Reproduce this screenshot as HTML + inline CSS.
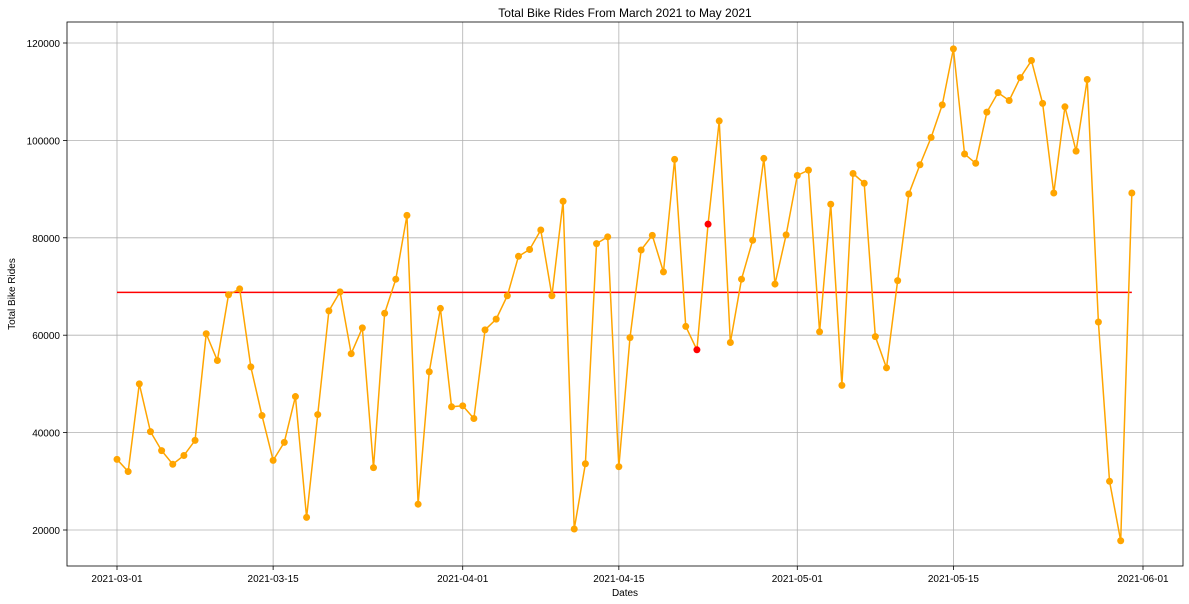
<!DOCTYPE html>
<html><head><meta charset="utf-8"><style>
html,body{margin:0;padding:0;background:#fff;}
svg{display:block;font-family:"Liberation Sans",sans-serif;}
</style></head><body>
<svg id="chart" width="1189" height="604"></svg>
<script>
const dates0 = "2021-03-01";
const rides = [34500,32000,50000,40200,36300,33500,35300,38400,60300,54800,68300,69500,53500,43500,34300,38000,47400,22600,43700,65000,68900,56200,61500,32800,64500,71500,84600,25300,52500,65500,45300,45500,42900,61100,63300,68100,76200,77600,81600,68100,87500,20200,33600,78800,80200,33000,59500,77500,80500,73000,96100,61800,57000,82800,104000,58500,71500,79500,96300,70500,80600,92800,93900,60700,86900,49700,93200,91200,59700,53300,71200,89000,95000,100600,107300,118800,97200,95300,105800,109800,108200,112900,116400,107600,89200,106900,97800,112500,62700,30000,17800,89200];
const highlightIdx = [52,53];
const meanValue = 68800;
const yTicks = [20000,40000,60000,80000,100000,120000];
const xTickLabels = ["2021-03-01","2021-03-15","2021-04-01","2021-04-15","2021-05-01","2021-05-15","2021-06-01"];
const xTickDays = [0,14,31,45,61,75,92];

const NS="http://www.w3.org/2000/svg";
const svg=document.getElementById('chart');
const L=67,R=1183,T=22,B=566;
const xs=d=>117+d*(1143-117)/92;
const ys=v=>530-(v-20000)*(530-43)/100000;
function el(tag,attrs,parent){const e=document.createElementNS(NS,tag);for(const k in attrs)e.setAttribute(k,attrs[k]);(parent||svg).appendChild(e);return e;}

// grid
yTicks.forEach(v=>{
  const g=el('line',{x1:L,x2:R,y1:ys(v),y2:ys(v),stroke:'#b0b0b0','stroke-width':0.8});
  
  
  el('line',{x1:L-4,x2:L,y1:ys(v),y2:ys(v),stroke:'#000','stroke-width':0.8});
  const t=el('text',{x:L-7,y:ys(v)+4,'text-anchor':'end','font-size':10});
  t.textContent=v;
  
  
});
xTickDays.forEach((d,i)=>{
  const g=el('line',{x1:xs(d),x2:xs(d),y1:T,y2:B,stroke:'#b0b0b0','stroke-width':0.8});
  
  
  el('line',{x1:xs(d),x2:xs(d),y1:B,y2:B+4,stroke:'#000','stroke-width':0.8});
  const t=el('text',{x:xs(d),y:B+16,'text-anchor':'middle','font-size':10});
  t.textContent=xTickLabels[i];
  
  
});
// mean line
const ml=el('line',{x1:xs(0),x2:xs(rides.length-1),y1:ys(meanValue),y2:ys(meanValue),stroke:'#ff0000','stroke-width':1.5});


// series line
const pl=el('polyline',{points:rides.map((v,i)=>xs(i)+','+ys(v)).join(' '),fill:'none',stroke:'#ffa500','stroke-width':1.5});


rides.forEach((v,i)=>{
  const c=el('circle',{cx:xs(i),cy:ys(v),r:3.5,fill:highlightIdx.includes(i)?'#ff0000':'#ffa500'});
  
  
});
// frame
const fr=el('rect',{x:L,y:T,width:R-L,height:B-T,fill:'none',stroke:'#000','stroke-width':0.8});


const ti=el('text',{x:(L+R)/2,y:17,'text-anchor':'middle','font-size':12});
ti.textContent='Total Bike Rides From March 2021 to May 2021';


const xl=el('text',{x:(L+R)/2,y:596,'text-anchor':'middle','font-size':10});
xl.textContent='Dates';


const yl=el('text',{x:15,y:(T+B)/2,'text-anchor':'middle','font-size':10,transform:'rotate(-90 15 '+((T+B)/2)+')'});
yl.textContent='Total Bike Rides';


</script>
</body></html>
